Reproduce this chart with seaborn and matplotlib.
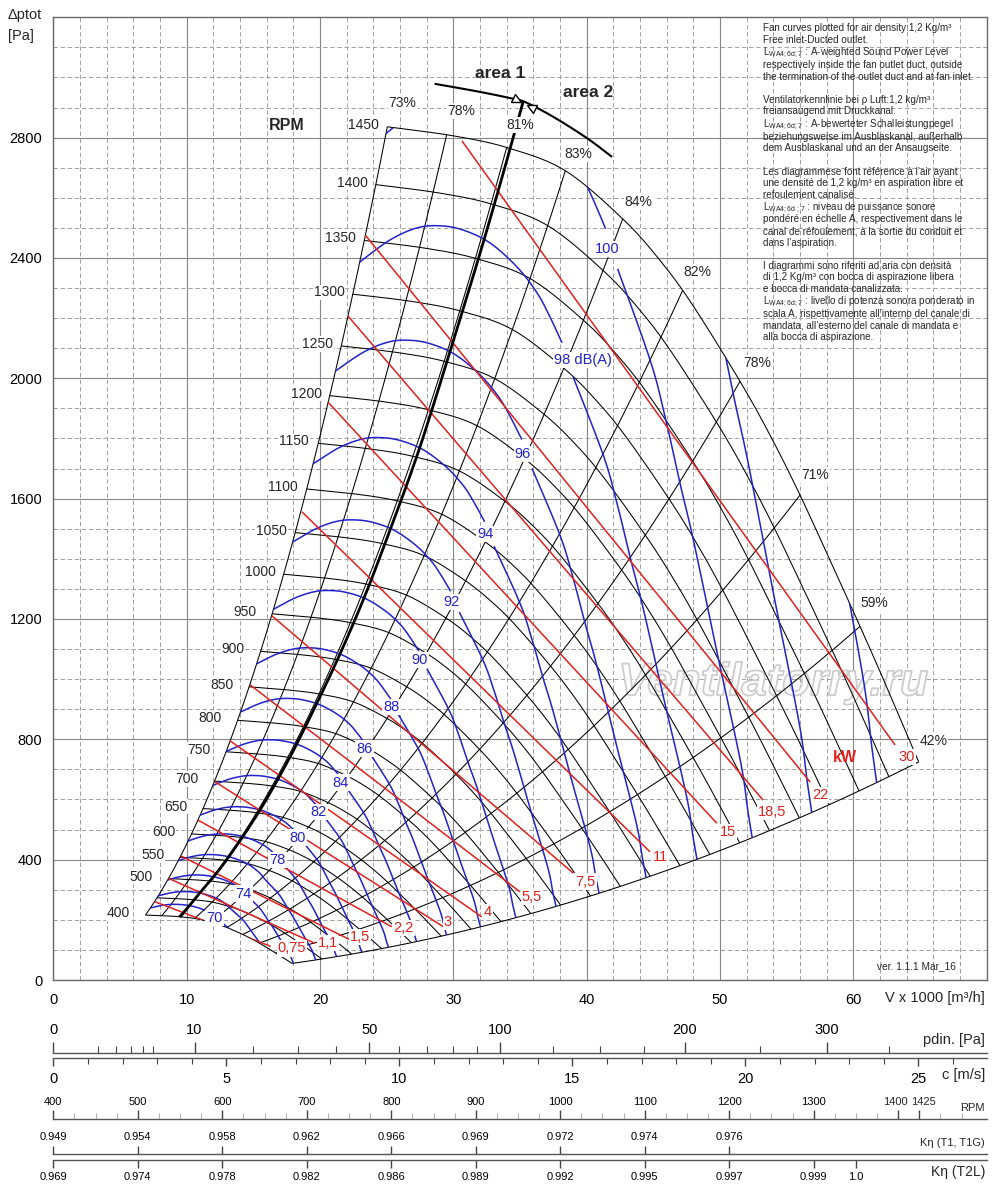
import numpy as np
import matplotlib
matplotlib.use("Agg")
import matplotlib.pyplot as plt
import seaborn as sns
from matplotlib.patches import Polygon
from matplotlib import patheffects
from matplotlib.markers import MarkerStyle
from matplotlib.transforms import Affine2D, offset_copy, blended_transform_factory
from matplotlib.ticker import FixedLocator, NullFormatter

sns.set_theme(style="white")
plt.rcParams['font.family'] = ['Liberation Sans', 'DejaVu Sans']
plt.rcParams['mathtext.fontset'] = 'custom'
plt.rcParams['mathtext.rm'] = 'Liberation Sans'
plt.rcParams['mathtext.default'] = 'regular'

# ------------------------------------------------------------------ data
# fan curve at the top speed (1450 rpm)
BASE_RPM = 1450
base_q = [25.05, 30.0, 34.1, 38.4, 42.7, 45.5, 48.0, 51.7, 54.0, 56.0, 58.0,
          60.0, 62.0, 64.9]
base_p = [2836, 2806, 2766, 2690, 2530, 2392, 2240, 1975, 1790, 1612, 1420,
          1225, 1025, 725]
rpm_values = [400, 450, 500, 550, 600, 650, 700, 750, 800, 850, 900, 950, 1000,
              1050, 1100, 1150, 1200, 1250, 1300, 1350, 1400, 1450]
rpm_labelled = [400, 500, 550, 600, 650, 700, 750, 800, 850, 900, 950, 1000,
                1050, 1100, 1150, 1200, 1250, 1300, 1350, 1400, 1450]

# efficiency lines: flow where each meets the 1450 rpm curve
eff_labels = ['73%', '78%', '81%', '83%', '84%', '82%', '78%', '71%', '59%', '42%']
eff_q1450 = [25.05, 29.5, 34.0, 38.4, 42.7, 47.2, 51.5, 56.0, 60.5, 64.9]
eff_label_q = [26.2, 30.6, 35.0, 39.4, 43.9, 48.3, 52.8, 57.1, 61.55, 66.0]
eff_label_p = [2914, 2889, 2842, 2746, 2587, 2354, 2051, 1679, 1253, 794]

# sound power lines (dB(A)); rpm where each leaves the left boundary
db_levels = [70, 72, 74, 76, 78, 80, 82, 84, 86, 88, 90, 92, 94, 96, 98, 100, 102, 104]
db_start_rpm = [421, 455, 496, 542, 585, 637, 692, 750, 812, 882, 955, 1038,
                1127, 1224, 1329, 1443, 1566, 1700]
db_texts = ['70', '', '74', '', '78', '80', '82', '84', '86', '88', '90', '92',
            '94', '96', '98 dB(A)', '100', '', '']
# shape of the 98 dB(A) line (rpm 1329)
DB_REF_RPM = 1329
db_arc_q = [22.3, 23.0, 25.25, 27.28, 29.0, 30.73, 32.75, 34.78, 36.28, 37.25, 38.15]
db_arc_p = [2362, 2387, 2460, 2500, 2507, 2493, 2450, 2370, 2284, 2204, 2118]
db_tail_q = [38.98, 41.26, 42.3, 43.33, 44.24, 45.9, 47.48, 48.0, 48.6]
db_tail_p = [2005, 1743, 1580, 1393, 1235, 913, 613, 470, 320]
db_label_q, db_label_p = 38.23, 2061

# absorbed power lines (kW)
kw_texts = ['0,75', '1,1', '1,5', '2,2', '3', '4', '5,5', '7,5', '11', '15', '18,5', '22', '30']
kw_q0 = [7.63, 8.63, 9.58, 10.83, 12.13, 13.25, 14.7, 16.38, 18.65, 20.6, 22.1, 23.38, 30.65]
kw_p0 = [260, 338, 412, 532, 659, 795, 983, 1211, 1556, 1921, 2207, 2477, 2789]
kw_q1 = [16.3, 19.63, 22.2, 25.38, 29.25, 32.13, 35.0, 39.0, 44.75, 49.76, 53.23, 56.76, 63.13]
kw_p1 = [112, 122, 135, 177, 177, 210, 293, 355, 426, 521, 598, 658, 781]
kw_lab_q = [17.9, 20.6, 23.0, 26.25, 29.6, 32.6, 35.9, 39.9, 45.5, 50.6, 53.9, 57.5, 64.0]
kw_lab_p = [105, 122, 144, 172, 194, 227, 275, 327, 408, 491, 558, 615, 741]

# area 1 / area 2 boundary
area_q = [9.5, 11.0, 12.5, 14.0, 15.5, 17.0, 18.5, 21.0, 23.23, 25.25, 26.98,
          28.25, 30.28, 32.0, 33.28, 34.25, 35.23]
area_p = [209, 290, 370, 463, 565, 680, 806, 1035, 1262, 1495, 1705, 1875,
          2165, 2415, 2610, 2762, 2919]
arc_q = [28.6, 32.0, 34.5, 35.5, 37.5, 40.0, 41.9]
arc_p = [2979, 2952, 2929, 2916, 2869, 2799, 2736]

x_ticks = [0, 10, 20, 30, 40, 50, 60]
y_ticks = [0, 400, 800, 1200, 1600, 2000, 2400, 2800]

# auxiliary scales
AIR_DENSITY = 1.2
pdin_major = [0, 10, 50, 100, 200, 300]
pdin_minor = [1, 2, 3, 4, 5, 20, 30, 40, 60, 70, 80, 90, 125, 150, 175, 250, 350]
c_major = [0, 5, 10, 15, 20, 25]
c_minor = [1, 2, 3, 4, 6, 7, 8, 9, 11, 12, 13, 14, 16, 17, 18, 19, 21, 22, 23, 24, 26]
rpm_scale_major = [400, 500, 600, 700, 800, 900, 1000, 1100, 1200, 1300, 1400, 1425]
kt1_rpm = [400, 500, 600, 700, 800, 900, 1000, 1100, 1200]
kt1_vals = ['0.949', '0.954', '0.958', '0.962', '0.966', '0.969', '0.972', '0.974', '0.976']
kt2_rpm = [400, 500, 600, 700, 800, 900, 1000, 1100, 1200, 1300, 1350]
kt2_vals = ['0.969', '0.974', '0.978', '0.982', '0.986', '0.989', '0.992', '0.995',
            '0.997', '0.999', '1.0']

note_lines = [
    (28, "Fan curves plotted for air density:1,2 Kg/m³"),
    (40, "Free inlet-Ducted outlet."),
    (53, r"L$_{\mathregular{WA4;6d;7}}$ : A-weighted Sound Power Level"),
    (65, "respectively inside the fan outlet duct, outside"),
    (77, "the termination of the outlet duct and at fan inlet."),
    (100, "Ventilatorkennlinie bei ρ Luft:1,2 kg/m³"),
    (111, "freiansaugend mit Druckkanal."),
    (125, r"L$_{\mathregular{WA4;6d;7}}$ : A-bewerteter Schalleistungpegel"),
    (137, "beziehungsweise im Ausblaskanal, außerhalb"),
    (148, "dem Ausblaskanal und an der Ansaugseite."),
    (172, "Les diagrammese font référence à l’air ayant"),
    (183, "une densité de 1,2 kg/m³ en aspiration libre et"),
    (195, "refoulement canalisé."),
    (208, r"L$_{\mathregular{WA4;6d\ ;7}}$ : niveau de puissance sonore"),
    (219, "pondéré en échelle A, respectivement dans le"),
    (231, "canal de réfoulement, à la sortie du conduit et"),
    (243, "dans l’aspiration."),
    (266, "I diagrammi sono riferiti ad aria con densità"),
    (277, "di 1,2 Kg/m³ con bocca di aspirazione libera"),
    (289, "e bocca di mandata canalizzata."),
    (302, r"L$_{\mathregular{WA4;6d;7}}$ : livello di potenza sonora ponderato in"),
    (314, "scala A, rispettivamente all’interno del canale di"),
    (325, "mandata, all’esterno del canale di mandata e"),
    (337, "alla bocca di aspirazione."),
]

# ------------------------------------------------------------------ styles
BLUE = '#2222cc'
RED = '#e3211d'
W_PX, H_PX = 1000, 1184
AX_L, AX_R, AX_T, AX_B = 53.3, 986.7, 17.3, 980.0

fig = plt.figure(figsize=(10, 11.84), dpi=100)
ax = fig.add_axes([AX_L / W_PX, 1 - AX_B / H_PX, (AX_R - AX_L) / W_PX, (AX_B - AX_T) / H_PX])
ax.set_xlim(0, 70)
ax.set_ylim(0, 3200)


def smooth(xs, ys, k=12):
    P = np.column_stack([xs, ys]).astype(float)
    P = np.vstack([P[0], P, P[-1]])
    out = []
    t = np.linspace(0, 1, k, endpoint=False)[:, None]
    for i in range(1, len(P) - 2):
        p0, p1, p2, p3 = P[i - 1], P[i], P[i + 1], P[i + 2]
        seg = 0.5 * ((2 * p1) + (-p0 + p2) * t + (2 * p0 - 5 * p1 + 4 * p2 - p3) * t ** 2
                     + (-p0 + 3 * p1 - 3 * p2 + p3) * t ** 3)
        out.append(seg)
    out.append(P[-2][None, :])
    out = np.vstack(out)
    return out[:, 0], out[:, 1]


def draw(x, y, color, lw, clip=None, z=2, **kw):
    n0 = len(ax.lines)
    sns.lineplot(x=np.asarray(x, float), y=np.asarray(y, float), ax=ax, color=color,
                 linewidth=lw, sort=False, estimator=None, legend=False, zorder=z, **kw)
    for ln in ax.lines[n0:]:
        if clip is not None:
            ln.set_clip_path(clip)
        ln.set_solid_capstyle('butt')


# base curve, smoothed through the read points
uq, up = smooth(base_q, base_p, 16)
r_lo = rpm_values[0] / BASE_RPM
rr = np.linspace(r_lo, 1.0, 80)

# region of the fan map (for clipping)
q_left, p_left = uq[0], up[0]
q_right, p_right = uq[-1], up[-1]
poly = np.vstack([
    np.column_stack([uq, up]),
    np.column_stack([q_right * rr[::-1], p_right * rr[::-1] ** 2]),
    np.column_stack([uq[::-1] * r_lo, up[::-1] * r_lo ** 2]),
    np.column_stack([q_left * rr, p_left * rr ** 2]),
])
clip_patch = Polygon(poly, closed=True, transform=ax.transData)

# grid
ax.xaxis.set_major_locator(FixedLocator(x_ticks))
ax.yaxis.set_major_locator(FixedLocator(y_ticks))
ax.xaxis.set_minor_locator(FixedLocator(np.arange(0, 71, 2)))
ax.yaxis.set_minor_locator(FixedLocator(np.arange(0, 3201, 100)))
ax.grid(which='major', color='#858585', linewidth=0.8, linestyle='-')
ax.grid(which='minor', color='#a0a0a0', linewidth=0.7, linestyle=(0, (4.5, 2.8)))
ax.set_axisbelow(True)
ax.tick_params(which='both', length=0, labelsize=10.5, colors='black')
ax.tick_params(axis='y', pad=8)
ax.tick_params(axis='x', pad=9)
for s in ax.spines.values():
    s.set_color('#6a6a6a')
    s.set_linewidth(1.0)

# rpm curves
for n in rpm_values:
    r = n / BASE_RPM
    draw(uq * r, up * r * r, 'black', 0.75)

# efficiency lines
for u in eff_q1450:
    pu = np.interp(u, uq, up)
    draw(u * rr, pu * rr ** 2, 'black', 0.75)

# sound level lines
arc_x, arc_y = smooth(db_arc_q, db_arc_p, 14)
tail_x, tail_y = smooth(db_tail_q, db_tail_p, 10)
full_x, full_y = smooth(db_arc_q + db_tail_q, db_arc_p + db_tail_p, 14)
lab_box = dict(boxstyle='square,pad=0.08', fc='white', ec='none')
for lvl, n_start, txt in zip(db_levels, db_start_rpm, db_texts):
    s = n_start / DB_REF_RPM
    if txt:
        draw(arc_x * s, arc_y * s * s, BLUE, 1.1, clip=clip_patch, z=3)
        draw(tail_x * s, tail_y * s * s, BLUE, 1.1, clip=clip_patch, z=3)
        if txt.endswith('dB(A)'):
            tr = offset_copy(ax.transData, fig=fig, x=-9, y=0, units='dots')
            ax.text(db_label_q * s, db_label_p * s * s, txt, transform=tr, ha='left',
                    va='center', color=BLUE, fontsize=10.5, zorder=6, bbox=lab_box)
        else:
            ax.text(db_label_q * s, db_label_p * s * s, txt, ha='center', va='center',
                    color=BLUE, fontsize=10.5, zorder=6, bbox=lab_box)
    else:
        draw(full_x * s, full_y * s * s, BLUE, 1.1, clip=clip_patch, z=3)

# power lines
for t, a0, b0, a1, b1, lq, lp in zip(kw_texts, kw_q0, kw_p0, kw_q1, kw_p1, kw_lab_q, kw_lab_p):
    draw([a0, a1], [b0, b1], RED, 1.1, clip=clip_patch, z=3)
    ax.text(lq, lp, t, ha='center', va='center', color=RED, fontsize=10.5, zorder=6,
            bbox=lab_box)
ax.text(59.4, 741, 'kW', ha='center', va='center', color=RED, fontsize=11.5,
        fontweight='bold', zorder=6)

# area boundary
ar_x, ar_y = smooth(area_q, area_p, 8)
draw(ar_x, ar_y, 'black', 2.0, z=4)
ax_arc_x, ax_arc_y = smooth(arc_q, arc_p, 10)
draw(ax_arc_x, ax_arc_y, 'black', 1.5, z=4)
m_l = MarkerStyle('>', transform=Affine2D().rotate_deg(-24))
m_r = MarkerStyle('<', transform=Affine2D().rotate_deg(-24))
ax.plot([34.75], [2925], marker=m_l, ms=6, mfc='white', mec='black', mew=1.0, zorder=5)
ax.plot([35.8], [2903], marker=m_r, ms=6, mfc='white', mec='black', mew=1.0, zorder=5)
ax.text(33.5, 3012, 'area 1', ha='center', va='center', fontsize=12.5, fontweight='bold', zorder=6)
ax.text(40.1, 2949, 'area 2', ha='center', va='center', fontsize=12.5, fontweight='bold', zorder=6)

# labels
for t, lq, lp in zip(eff_labels, eff_label_q, eff_label_p):
    ax.text(lq, lp, t, ha='center', va='center', fontsize=10, zorder=6, bbox=lab_box)
rpm_tr = offset_copy(ax.transData, fig=fig, x=-39, y=2, units='dots')
for n in rpm_labelled:
    r = n / BASE_RPM
    ax.text(q_left * r, p_left * r * r, str(n), transform=rpm_tr, ha='left', va='center',
            fontsize=10, zorder=6,
            bbox=dict(boxstyle='square,pad=0.05', fc='white', ec='none'))
ax.text(17.5, 2842, 'RPM', ha='center', va='center', fontsize=11.5, fontweight='bold', zorder=6)
ax.text(64.7, 46, 'ver. 1.1.1 Mar_16', ha='center', va='center', fontsize=7.3, zorder=6)

# watermark (outlined only, beneath the curves)
wm = ax.text(54.0, 987, 'Ventilatorry.ru', ha='center', va='center', fontsize=33,
             style='italic', fontweight='bold', color='white', zorder=1.5)
wm.set_path_effects([patheffects.Stroke(linewidth=1.3, foreground='#cdcdcd')])

# notes
for py, txt in note_lines:
    fig.text(763 / W_PX, 1 - py / H_PX, txt, ha='left', va='center', fontsize=7.1)

fig.text(8 / W_PX, 1 - 15 / H_PX, 'Δptot', ha='left', va='center', fontsize=10.5)
fig.text(8 / W_PX, 1 - 36 / H_PX, '[Pa]', ha='left', va='center', fontsize=10.5)
fig.text(985 / W_PX, 1 - 998 / H_PX, 'V x 1000 [m³/h]', ha='right', va='center', fontsize=10.5)

# ------------------------------------------------------------------ auxiliary scales
def make_scale(py, top):
    a = fig.add_axes([AX_L / W_PX, 1 - py / H_PX, (AX_R - AX_L) / W_PX, 1e-6])
    a.patch.set_visible(False)
    a.set_yticks([])
    for s in ('left', 'right', 'top'):
        a.spines[s].set_visible(False)
    a.spines['bottom'].set_color('#555555')
    a.spines['bottom'].set_linewidth(1.0)
    if top:
        a.xaxis.set_ticks_position('top')
        a.xaxis.set_label_position('top')
    else:
        a.xaxis.set_ticks_position('bottom')
    a.tick_params(axis='x', which='both', direction='out', colors='#444444',
                  labelcolor='black')
    return a


c_max = (AX_R - AX_L) / 34.6
half_rho = AIR_DENSITY / 2.0

ap = make_scale(1052.7, True)
ap.set_xscale('function', functions=(lambda p: np.sqrt(np.clip(p, 0, None) / half_rho),
                                     lambda c: half_rho * np.asarray(c) ** 2))
ap.set_xlim(0, half_rho * c_max ** 2)
ap.xaxis.set_major_locator(FixedLocator(pdin_major))
ap.xaxis.set_minor_locator(FixedLocator(pdin_minor))
ap.xaxis.set_minor_formatter(NullFormatter())
ap.set_xticklabels([str(v) for v in pdin_major])
ap.tick_params(which='major', length=8, width=1.0, labelsize=10.5, pad=3.5)
ap.tick_params(which='minor', length=5, width=0.8)

ac = make_scale(1058.3, False)
ac.set_xlim(0, c_max)
ac.xaxis.set_major_locator(FixedLocator(c_major))
ac.xaxis.set_minor_locator(FixedLocator(c_minor))
ac.xaxis.set_minor_formatter(NullFormatter())
ac.set_xticklabels([str(v) for v in c_major])
ac.tick_params(which='major', length=6, width=1.0, labelsize=10.5, pad=4)
ac.tick_params(which='minor', length=4.5, width=0.8)

rpm_max = 400 + (AX_R - AX_L) / 0.8449
ar = make_scale(1119.3, True)
ar.set_xlim(400, rpm_max)
ar.xaxis.set_major_locator(FixedLocator(rpm_scale_major))
ar.xaxis.set_minor_locator(FixedLocator([v for v in np.arange(425, 1500, 25)
                                         if v not in rpm_scale_major]))
ar.xaxis.set_minor_formatter(NullFormatter())
# last two labels are close together: draw them with a small horizontal nudge
ar.set_xticklabels([str(v) if v < 1400 else '' for v in rpm_scale_major], fontsize=8)
blend = blended_transform_factory(ar.transData, ar.transAxes)
for v, dx in ((1400, -3), (1425, 4)):
    ar.text(v, 0, str(v), transform=offset_copy(blend, fig=fig, x=dx, y=17, units='dots'),
            ha='center', va='center', fontsize=8)
ar.tick_params(which='major', length=6.5, width=1.0, pad=2.5)
ar.tick_params(which='minor', length=4.3, width=0.8, color='#b4b4b4')

ak1 = make_scale(1154.3, True)
ak1.set_xlim(400, rpm_max)
ak1.xaxis.set_major_locator(FixedLocator(kt1_rpm))
ak1.set_xticklabels(kt1_vals, fontsize=8)
ak1.tick_params(which='major', length=6, width=1.0, pad=2.5)

ak2 = make_scale(1160.0, False)
ak2.set_xlim(400, rpm_max)
ak2.xaxis.set_major_locator(FixedLocator(kt2_rpm))
ak2.set_xticklabels(kt2_vals, fontsize=8)
ak2.tick_params(which='major', length=6, width=1.0, pad=3)

fig.text(985 / W_PX, 1 - 1040 / H_PX, 'pdin. [Pa]', ha='right', va='center', fontsize=10.5)
fig.text(985 / W_PX, 1 - 1075 / H_PX, 'c [m/s]', ha='right', va='center', fontsize=10.5)
fig.text(985 / W_PX, 1 - 1108 / H_PX, 'RPM', ha='right', va='center', fontsize=8)
fig.text(985 / W_PX, 1 - 1143 / H_PX, 'Kη (T1, T1G)', ha='right', va='center', fontsize=8)
fig.text(985 / W_PX, 1 - 1172 / H_PX, 'Kη (T2L)', ha='right', va='center', fontsize=10)

fig.savefig('out.png', dpi=100)
